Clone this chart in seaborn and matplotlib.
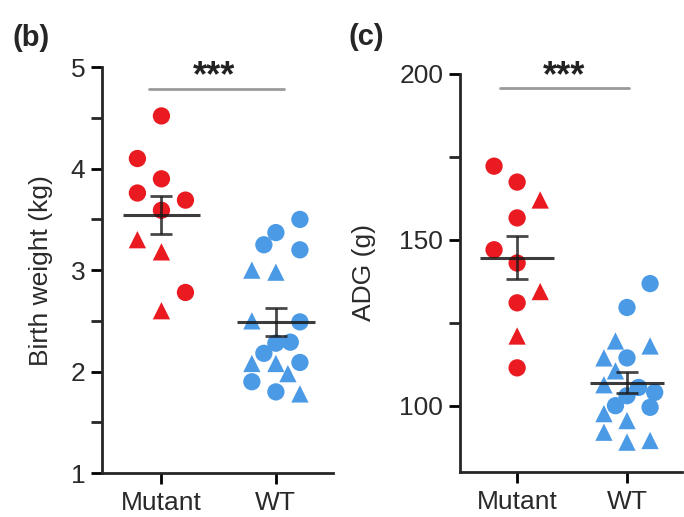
import numpy as np
import pandas as pd
import matplotlib
matplotlib.use("Agg")
import matplotlib.pyplot as plt
import seaborn as sns
from matplotlib.ticker import MultipleLocator

# ---- data ----
groups = ["Mutant", "WT"]

# (b) birth weight, kg
bw_mutant = [4.52, 4.10, 3.90, 3.76, 3.69, 3.59, 3.30, 3.18, 2.78, 2.60]
bw_mutant_shape = ["circle", "circle", "circle", "circle", "circle", "circle",
                   "triangle", "triangle", "circle", "triangle"]
bw_wt = [3.50, 3.37, 3.25, 3.20, 3.00, 2.98, 2.50, 2.49, 2.18, 2.28, 2.29,
         2.09, 2.08, 2.08, 1.98, 1.90, 1.80, 1.78]
bw_wt_shape = ["circle", "circle", "circle", "circle", "triangle", "triangle",
               "triangle", "circle", "circle", "circle", "circle", "circle",
               "triangle", "triangle", "triangle", "circle", "circle", "triangle"]

# (c) average daily gain, g
adg_mutant = [172.2, 167.4, 162.0, 156.6, 147.0, 143.0, 134.4, 131.0, 121.0, 111.4]
adg_mutant_shape = ["circle", "circle", "triangle", "circle", "circle", "circle",
                    "triangle", "circle", "triangle", "circle"]
adg_wt = [136.8, 129.6, 119.5, 118.0, 114.4, 114.4, 110.5, 106.3, 105.5, 104.0,
          103.0, 100.0, 99.5, 97.6, 95.5, 92.0, 89.0, 89.5]
adg_wt_shape = ["circle", "circle", "triangle", "triangle", "triangle", "circle",
                "triangle", "triangle", "circle", "circle", "circle", "circle",
                "circle", "triangle", "triangle", "triangle", "triangle", "triangle"]

# ---- layout: side-by-side slot of each point (scatter arrangement) ----
bw_mutant_slot = [0, -1, 0, -1, 1, 0, -1, 0, 1, 0]
bw_wt_slot = [1, 0, -0.5, 1, -1, 0, -1, 1, -0.5, 0, 0.6, 1, -1, 0, 0.5, -1, 0, 1]
adg_mutant_slot = [-1, 0, 1, 0, -1, 0, 1, 0, 0, 0]
adg_wt_slot = [1, 0, -0.5, 1, -1, 0, -0.5, -1, 0.5, 1.2, 0, -0.5, 1, -1, 0, -1, 0, 1]

RED = "#EA1A21"
BLUE = "#4B9AE6"
SLOT_W = 0.21

sns.set_theme(style="ticks")
plt.rcParams["font.family"] = ["Liberation Sans", "DejaVu Sans"]
plt.rcParams["axes.linewidth"] = 2.0


def make_df(mut, mut_shape, mut_slot, wt, wt_shape, wt_slot):
    df = pd.DataFrame({
        "group": ["Mutant"] * len(mut) + ["WT"] * len(wt),
        "value": mut + wt,
        "shape": mut_shape + wt_shape,
        "slot": mut_slot + wt_slot,
    })
    df["xpos"] = df["group"].map({g: i for i, g in enumerate(groups)}) + df["slot"] * SLOT_W
    return df


def draw_panel(ax, df, ylabel, ylim, major, minor, sig_x, sig_y, star_x, star_y):
    sns.scatterplot(data=df, x="xpos", y="value", hue="group", style="shape",
                    palette={"Mutant": RED, "WT": BLUE},
                    markers={"circle": "o", "triangle": "^"},
                    s=155, linewidth=0, legend=False, ax=ax, zorder=2)
    # mean +/- SEM
    for i, g in enumerate(groups):
        v = df.loc[df["group"] == g, "value"].to_numpy()
        m = v.mean()
        se = v.std(ddof=1) / np.sqrt(len(v))
        ax.hlines(m, i - 0.34, i + 0.34, color="#1a1a1a", lw=2.2, alpha=0.85, zorder=3)
        ax.errorbar(i, m, yerr=se, fmt="none", ecolor="#1a1a1a", elinewidth=2.0,
                    capsize=8, capthick=2.0, alpha=0.8, zorder=3)
    # significance
    ax.plot(sig_x, [sig_y, sig_y], color="#9a9a9a", lw=2.0, clip_on=False)
    ax.text(star_x, star_y, "***", ha="center", va="center", fontsize=26,
            fontweight="bold", color="#222222", clip_on=False)

    ax.set_xlim(-0.52, 1.5)
    ax.set_ylim(*ylim)
    ax.set_xticks(range(len(groups)))
    ax.set_xticklabels(groups)
    ax.yaxis.set_major_locator(MultipleLocator(major))
    ax.yaxis.set_minor_locator(MultipleLocator(minor))
    ax.tick_params(axis="both", which="major", labelsize=19, length=8, width=2.0,
                   color="black", labelcolor="#2a2a2a", pad=4)
    ax.tick_params(axis="x", which="major", pad=5)
    ax.tick_params(axis="y", which="minor", length=8, width=2.0)
    ax.set_xlabel("")
    ax.set_ylabel(ylabel, fontsize=19, color="#2a2a2a")
    sns.despine(ax=ax)


fig = plt.figure(figsize=(6.84, 5.17), dpi=100)
ax1 = fig.add_axes([0.149, 0.085, 0.338, 0.785])
ax2 = fig.add_axes([0.6725, 0.087, 0.3245, 0.770])

df_bw = make_df(bw_mutant, bw_mutant_shape, bw_mutant_slot, bw_wt, bw_wt_shape, bw_wt_slot)
df_adg = make_df(adg_mutant, adg_mutant_shape, adg_mutant_slot, adg_wt, adg_wt_shape, adg_wt_slot)

draw_panel(ax1, df_bw, "Birth weight (kg)", (1, 5), 1, 0.5,
           [-0.11, 1.07], 4.79, 0.46, 4.905)
draw_panel(ax2, df_adg, "ADG (g)", (80, 200), 50, 25,
           [-0.16, 1.02], 195.8, 0.43, 199.2)
ax2.set_yticks([100, 150, 200])
ax1.yaxis.set_label_coords(-0.21, 0.5)
ax2.yaxis.set_label_coords(-0.38, 0.5)

fig.text(0.019, 1 - 38 / 517, "(b)", fontsize=21, fontweight="bold", va="center")
fig.text(0.510, 1 - 37 / 517, "(c)", fontsize=21, fontweight="bold", va="center")

plt.savefig("out.png", dpi=100)
